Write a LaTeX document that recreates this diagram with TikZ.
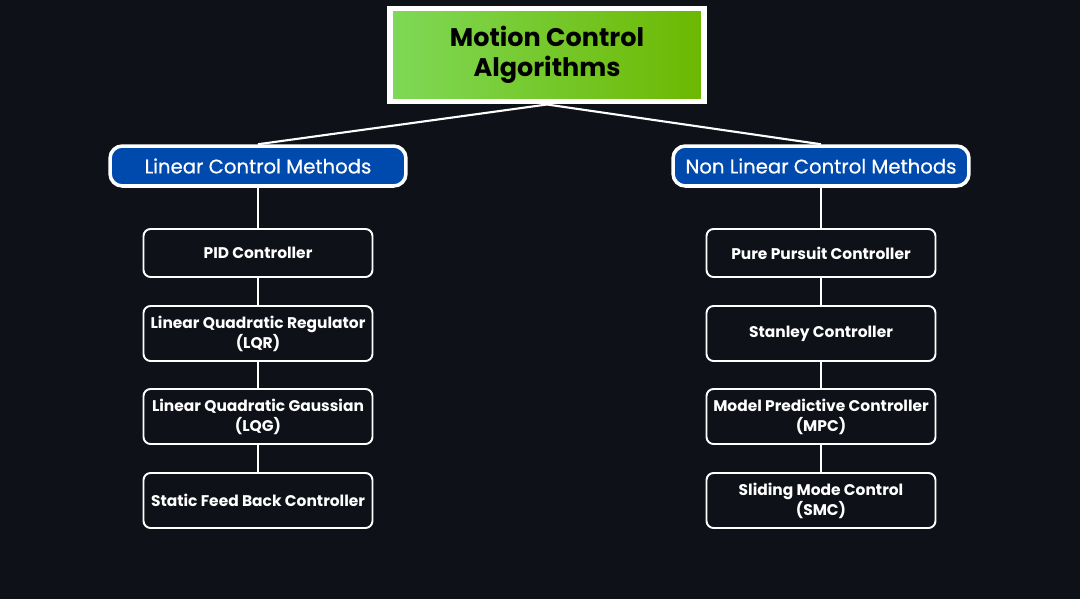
\documentclass[tikz,border=0pt]{standalone}
\usepackage{fontspec}
\setmainfont{Poppins}
\newfontfamily\methodfont[FakeBold=0.6]{Poppins}
\usetikzlibrary{positioning}

\definecolor{bgdark}{HTML}{0E1117}
\definecolor{greenL}{HTML}{7FD957}
\definecolor{greenR}{HTML}{6CB800}
\definecolor{methodblue}{HTML}{004AAD}

\tikzset{
    titlebox/.style={draw=white, line width=3.4pt, left color=greenL, right color=greenR,
        minimum width=6.28cm, minimum height=1.86cm, align=center, text=black,
        font=\fontsize{14.5}{17.3}\selectfont\bfseries},
    methodbox/.style={draw=white, line width=2pt, fill=methodblue, rounded corners=7pt,
        minimum width=5.92cm, minimum height=0.8cm, text=white,
        font=\fontsize{11.2}{12}\selectfont\methodfont},
    algobox/.style={draw=white, line width=1.1pt, fill=bgdark, rounded corners=4pt,
        minimum width=4.58cm, minimum height=1.1cm, align=center, text=white,
        font=\fontsize{8.8}{11.4}\selectfont\bfseries},
    link/.style={draw=white, line width=1.2pt},
}

\begin{document}
\begin{tikzpicture}[x=0.02cm, y=-0.02cm]
    \fill[bgdark] (0,0) rectangle (1080,599);

    \node[titlebox] (title) at (547,55) {Motion Control\\Algorithms};

    \node[methodbox] (linear) at (258,166) {Linear Control Methods};
    \node[methodbox] (nonlinear) at (821,166) {Non Linear Control Methods};

    % linear branch
    \node[algobox, minimum height=0.96cm] (pid) at (258,253) {PID Controller};
    \node[algobox] (lqr) at (258,333.5) {Linear Quadratic Regulator\\(LQR)};
    \node[algobox] (lqg) at (258,416.5) {Linear Quadratic Gaussian\\(LQG)};
    \node[algobox] (sfb) at (258,500.5) {Static Feed Back Controller};

    % non linear branch
    \node[algobox, minimum height=0.96cm] (pp) at (821,253) {Pure Pursuit Controller};
    \node[algobox] (stanley) at (821,333.5) {Stanley Controller};
    \node[algobox] (mpc) at (821,416.5) {Model Predictive Controller\\(MPC)};
    \node[algobox] (smc) at (821,500.5) {Sliding Mode Control\\(SMC)};

    \draw[link] (title.south) -- (linear.north);
    \draw[link] (title.south) -- (nonlinear.north);
    \draw[link] (linear) -- (pid) -- (lqr) -- (lqg) -- (sfb);
    \draw[link] (nonlinear) -- (pp) -- (stanley) -- (mpc) -- (smc);
\end{tikzpicture}
\end{document}
